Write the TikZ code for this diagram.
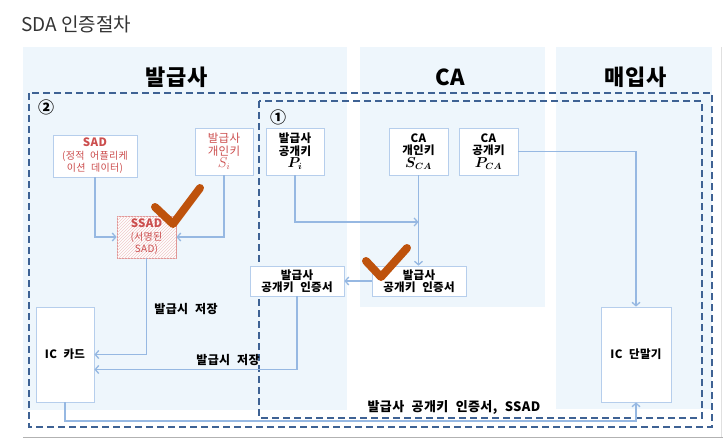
\documentclass[tikz,border=0pt]{standalone}
\usepackage{amsmath}
\usepackage{fontspec}
\setmainfont{Noto Sans CJK KR}
\newfontfamily\krfont[LetterSpace=3]{Noto Sans CJK KR}
\newfontfamily\labelfont[LetterSpace=3,WordSpace=2.2]{Noto Sans CJK KR}
\usetikzlibrary{arrows.meta,patterns}
\definecolor{panelfill}{RGB}{238,246,252}
\definecolor{dashblue}{RGB}{62,98,148}
\definecolor{flowblue}{RGB}{150,184,226}
\definecolor{boxline}{RGB}{182,206,236}
\definecolor{redtext}{RGB}{204,78,78}
\definecolor{checkcol}{RGB}{190,82,12}
\newcommand{\boxfont}{\krfont\fontsize{11.5}{12.5}\selectfont}
\newcommand{\subfont}{\fontsize{10}{12}\selectfont\mdseries}
\newcommand{\keymath}[1]{{\fontsize{13.5}{12.5}\selectfont$#1$}}
\tikzset{
  panel/.style={fill=panelfill, draw=none},
  zone/.style={draw=dashblue, line width=1.4pt, dash pattern=on 7pt off 4pt},
  keybox/.style={draw=boxline, fill=white, line width=0.8pt, align=center, inner sep=0pt, font=\boxfont\bfseries},
  redbox/.style={keybox, text=redtext},
  flow/.style={draw=flowblue, line width=1.3pt, -{Straight Barb[length=3.5pt,width=8pt,line width=1.3pt]}},
  flowlabel/.style={font=\labelfont\fontsize{12}{14}\selectfont\bfseries},
  heading/.style={font=\krfont\fontsize{22}{24}\selectfont\bfseries},
  check/.style={draw=checkcol, line width=8pt, line cap=round, line join=round}
}
\begin{document}
\begin{tikzpicture}[x=1pt,y=-1pt]
  \useasboundingbox (0,0) rectangle (723,440);
  \node[anchor=west, font=\fontsize{19}{21}\selectfont, text=black!80, inner sep=0pt] (title) at (21,24) {SDA 인증절차};
  \fill[panel] (23,47) rectangle (347,410);
  \fill[panel] (360,47) rectangle (545,307);
  \fill[panel] (556,47) rectangle (712,409);
  \draw[black!30] (23,437) -- (723,437);
  \draw[black!12] (721,47) -- (721,437);
  \node[heading] (issuer) at (177,77) {발급사};
  \node[heading] (ca) at (450,77) {CA};
  \node[heading] (acquirer) at (636,77) {매입사};

  \draw[zone] (29,93) rectangle (712,427);
  \draw[zone] (259,101) rectangle (702,418);
  \node[font=\fontsize{16}{18}\selectfont\bfseries] (two) at (46,107) {②};
  \node[font=\fontsize{16}{18}\selectfont\bfseries] (one) at (278,117) {①};

  \node[redbox, minimum width=84pt, minimum height=42pt] (sad) at (95,156)
    {SAD\\{\subfont (정적 어플리케}\\{\subfont 이션 데이터)}};
  \node[redbox, minimum width=58pt, minimum height=47pt, font=\boxfont] (si) at (224,151.5) {발급사\\개인키\\\keymath{S_i}};
  \node[keybox, minimum width=58pt, minimum height=47pt] (pi) at (295,151.5) {발급사\\공개키\\\keymath{\boldsymbol{P_i}}};
  \node[keybox, minimum width=59pt, minimum height=47pt] (sca) at (418.5,151.5) {CA\\개인키\\\keymath{\boldsymbol{S_{CA}}}};
  \node[keybox, minimum width=59pt, minimum height=47pt] (pca) at (488.5,151.5) {CA\\공개키\\\keymath{\boldsymbol{P_{CA}}}};
  \node[redbox, draw=redtext!60, minimum width=59pt, minimum height=42pt,
        postaction={pattern=north east lines, pattern color=redtext!30}] (ssad) at (146.5,237)
    {SSAD\\{\subfont (서명된}\\{\subfont SAD)}};
  \node[keybox, minimum width=94pt, minimum height=30pt] (certl) at (297,281) {발급사\\공개키 인증서};
  \node[keybox, minimum width=94pt, minimum height=30pt] (certr) at (419,281) {발급사\\공개키 인증서};
  \node[keybox, minimum width=58pt, minimum height=95pt] (card) at (65,354.5) {IC 카드};
  \node[keybox, minimum width=70pt, minimum height=95pt] (term) at (636,354.5) {IC 단말기};

  \coordinate (pj) at (418.5,222);
  \coordinate (cb) at (65,421);
  \draw[flow] (sad.south) |- (ssad.west);
  \draw[flow] (si.south) |- (ssad.east);
  \draw[flow] (pi.south) |- (pj);
  \draw[flow] (sca.south) -- (sca.south |- certr.north);
  \draw[flow] (certr.west) -- (certl.east);
  \draw[flow] (ssad.south) |- (card.east);
  \draw[flow] (certl.south) |- ([yshift=-15pt]card.east);
  \draw[flow] (pca.east) -| (term.north);
  \draw[flow] (card.south) -- (cb) -| (term.south);
  \node[flowlabel] (store1) at (186,309) {발급시 저장};
  \node[flowlabel] (store2) at (228,360) {발급시 저장};
  \node[flowlabel, font=\labelfont\fontsize{13}{15}\selectfont\bfseries] (send) at (454,407) {발급사 공개키 인증서, SSAD};

  \draw[check] (155,207) -- (173,224) -- (200,188);
  \draw[check] (366,261) -- (381,277) -- (407,248);
\end{tikzpicture}
\end{document}
